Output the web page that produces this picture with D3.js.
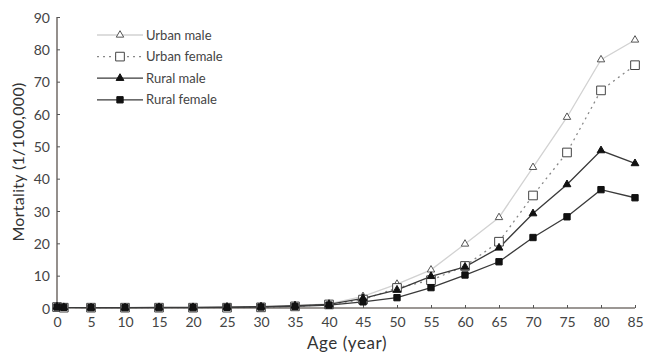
<!DOCTYPE html>
<html>
<head>
    <meta charset="utf-8" />
    <script src="https://cdn.jsdelivr.net/npm/d3@7"></script>
    <style>
        body { margin: 0; background: #fff; }
        text { font-family: Lato, "Open Sans", sans-serif; }
    </style>
</head>
<body>
    <svg width="646" height="355" id="mainsvg"></svg>
    <script>
        // data
        const ages = [0, 1, 5, 10, 15, 20, 25, 30, 35, 40, 45, 50, 55, 60, 65, 70, 75, 80, 85];
        const urbanMale   = [0.4, 0.1, 0.1, 0.1, 0.1, 0.1, 0.2, 0.3, 0.7, 1.3, 3.6, 7.4, 11.8, 19.8, 28.0, 43.5, 59.0, 76.8, 82.9];
        const urbanFemale = [0.3, 0.1, 0.1, 0.1, 0.1, 0.1, 0.1, 0.2, 0.5, 1.1, 2.6, 6.2, 8.6, 13.0, 20.5, 34.8, 48.1, 67.3, 75.1];
        const ruralMale   = [0.4, 0.2, 0.1, 0.1, 0.2, 0.2, 0.3, 0.4, 0.7, 1.1, 3.0, 5.6, 9.8, 12.7, 18.6, 29.2, 38.2, 48.7, 44.7];
        const ruralFemale = [0.3, 0.2, 0.1, 0.1, 0.1, 0.1, 0.2, 0.3, 0.5, 0.9, 1.9, 3.2, 6.3, 10.2, 14.3, 21.8, 28.2, 36.6, 34.1];
        const xTicks = [0, 5, 10, 15, 20, 25, 30, 35, 40, 45, 50, 55, 60, 65, 70, 75, 80, 85];
        const yTicks = [0, 10, 20, 30, 40, 50, 60, 70, 80, 90];

        const series = [
            { name: 'Urban male', values: urbanMale, line: '#d2d2d2', dash: null, marker: 'triangle', fill: '#fff', stroke: '#555', size: 24 },
            { name: 'Urban female', values: urbanFemale, line: '#888', dash: '2,4', marker: 'square', fill: '#fff', stroke: '#444', size: 75 },
            { name: 'Rural male', values: ruralMale, line: '#3a3a3a', dash: null, marker: 'triangle', fill: '#111', stroke: '#111', size: 26 },
            { name: 'Rural female', values: ruralFemale, line: '#3a3a3a', dash: null, marker: 'square', fill: '#111', stroke: '#111', size: 40 }
        ];

        const svg = d3.select('#mainsvg');
        const margin = { top: 17, right: 11, bottom: 47, left: 57 };
        const innerWidth = 646 - margin.left - margin.right;
        const innerHeight = 355 - margin.top - margin.bottom;
        const g = svg.append('g').attr('transform', `translate(${margin.left}, ${margin.top})`);

        const xScale = d3.scaleLinear().domain([0, 85]).range([0, 578]);
        const yScale = d3.scaleLinear().domain([0, 90]).range([innerHeight, 0]);

        // axes
        const xAxis = d3.axisBottom(xScale).tickValues(xTicks).tickSize(-3).tickPadding(9);
        const yAxis = d3.axisLeft(yScale).tickValues(yTicks).tickSize(-3).tickPadding(7);
        const xg = g.append('g').attr('transform', `translate(0, ${innerHeight})`).call(xAxis);
        const yg = g.append('g').call(yAxis);
        xg.select('.domain').attr('d', `M0,0H${innerWidth}`);
        yg.select('.domain').attr('d', `M0,0V${innerHeight}`);
        svg.selectAll('.domain').attr('stroke', '#7a7470').attr('stroke-width', 1.6);
        svg.selectAll('.tick line').attr('stroke', '#555');
        xg.attr('font-size', 14).attr('font-family', 'Lato, "Open Sans", sans-serif');
        yg.attr('font-size', 14).attr('font-family', 'Lato, "Open Sans", sans-serif');
        // plain baselines instead of em offsets
        xg.selectAll('.tick text').attr('dy', null).attr('y', 19).attr('fill', '#444');
        yg.selectAll('.tick text').attr('dy', null).attr('y', 5).attr('fill', '#444');

        // axis titles
        svg.append('text').text('Age (year)')
            .attr('x', 347).attr('y', 349).attr('text-anchor', 'middle')
            .attr('font-size', 17).attr('letter-spacing', 0.6).attr('fill', '#333');
        svg.append('text').text('Mortality (1/100,000)')
            .attr('transform', 'translate(24, 162) rotate(-90)').attr('text-anchor', 'middle')
            .attr('font-size', 16).attr('letter-spacing', 0.3).attr('fill', '#333');

        const symbolOf = s => d3.symbol().type(s.marker === 'triangle' ? d3.symbolTriangle : d3.symbolSquare).size(s.size);

        const line = d3.line().x((d, i) => xScale(ages[i])).y(d => yScale(d));

        series.forEach(s => {
            g.append('path').datum(s.values)
                .attr('fill', 'none').attr('stroke', s.line).attr('stroke-width', 1.3)
                .attr('stroke-dasharray', s.dash)
                .attr('d', line);
        });
        series.forEach(s => {
            g.selectAll(null).data(s.values).enter().append('path')
                .attr('transform', (d, i) => `translate(${xScale(ages[i])}, ${yScale(d)})`)
                .attr('d', symbolOf(s)())
                .attr('fill', s.fill).attr('stroke', s.stroke).attr('stroke-width', 1);
        });

        // legend
        const legend = svg.append('g').attr('transform', 'translate(97, 35)');
        series.forEach((s, i) => {
            const row = legend.append('g').attr('transform', `translate(0, ${i * 21.6})`);
            row.append('line').attr('x1', 0).attr('x2', 46).attr('y1', 0).attr('y2', 0)
                .attr('stroke', s.line).attr('stroke-width', 1.3).attr('stroke-dasharray', s.dash);
            row.append('path').attr('transform', 'translate(23, 0)').attr('d', symbolOf(s)())
                .attr('fill', s.fill).attr('stroke', s.stroke);
            row.append('text').text(s.name).attr('x', 49).attr('y', 4.5)
                .attr('font-size', 13).attr('fill', '#444');
        });
    </script>
</body>
</html>
